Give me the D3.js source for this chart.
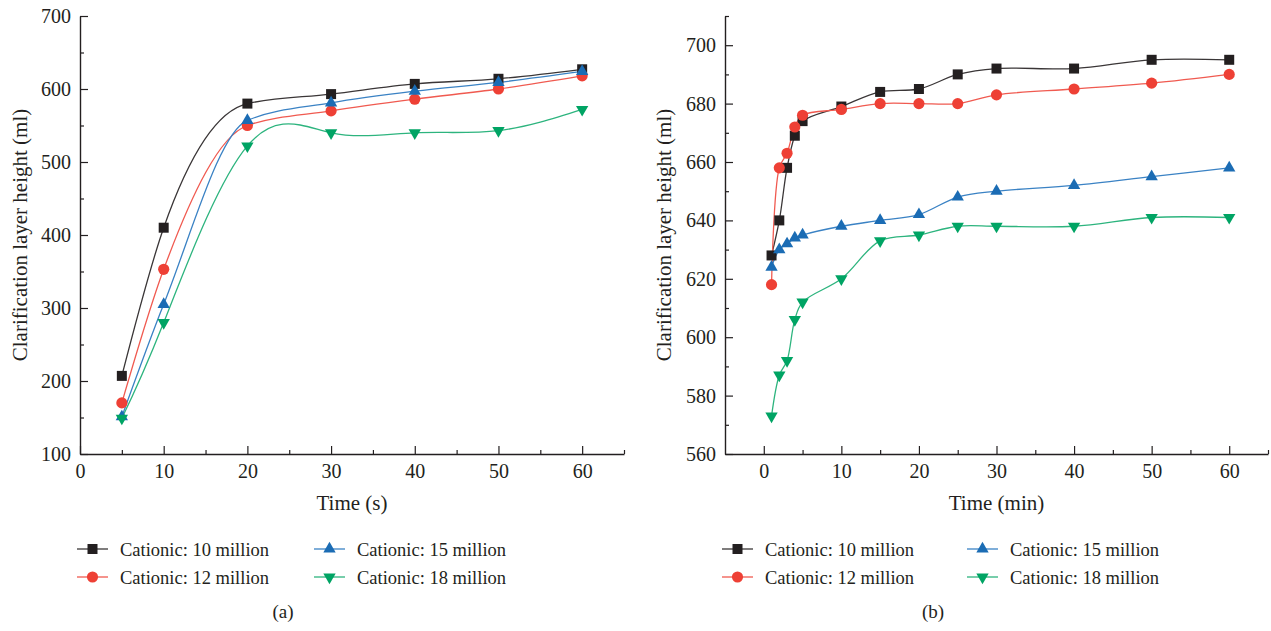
<!DOCTYPE html>
<html>
<head>
<meta charset="utf-8">
<script src="https://cdn.jsdelivr.net/npm/d3@7"></script>
<style>
  html, body { margin: 0; padding: 0; background: #fff; }
  svg { display: block; }
  text { font-family: "Liberation Serif", "DejaVu Serif", serif; fill: #231f20; }
</style>
</head>
<body>
<svg id="chart" width="1271" height="631"></svg>
<script>
// ---- data ----
const seriesNames = ["Cationic: 10 million", "Cationic: 12 million", "Cationic: 15 million", "Cationic: 18 million"];

// panel (a): time in seconds
const timeA = [5, 10, 20, 30, 40, 50, 60];
const a10 = [207, 410, 580, 593, 607, 614, 627];
const a12 = [170, 353, 550, 570, 586, 600, 618];
const a15 = [151, 305, 557, 581, 597, 609, 624];
const a18 = [149, 280, 522, 540, 540, 543, 572];

// panel (b): time in minutes
const timeB = [1, 2, 3, 4, 5, 10, 15, 20, 25, 30, 40, 50, 60];
const b10 = [628, 640, 658, 669, 674, 679, 684, 685, 690, 692, 692, 695, 695];
const b12 = [618, 658, 663, 672, 676, 678, 680, 680, 680, 683, 685, 687, 690];
const b15 = [624, 630, 632, 634, 635, 638, 640, 642, 648, 650, 652, 655, 658];
const b18 = [573, 587, 592, 606, 612, 620, 633, 635, 638, 638, 638, 641, 641];

// tick labels
const xTicksA = [0, 10, 20, 30, 40, 50, 60];
const yTicksA = [100, 200, 300, 400, 500, 600, 700];
const xTicksB = [0, 10, 20, 30, 40, 50, 60];
const yTicksB = [560, 580, 600, 620, 640, 660, 680, 700];

// ---- styling ----
const colors = ["#231f20", "#ee4035", "#1b6cb4", "#00a464"];
const lineColors = ["#3a3637", "#f05a50", "#3a82c4", "#2db47e"];
const symbols = [
  { type: d3.symbolSquare, size: 100, rot: 0 },
  { type: d3.symbolCircle, size: 98, rot: 0 },
  { type: d3.symbolTriangle, size: 66, rot: 0 },
  { type: d3.symbolTriangle, size: 66, rot: 180 }
];
const tickFont = 20, titleFont = 21, legendFont = 18.5;

const svg = d3.select("#chart");
svg.append("rect").attr("width", 1271).attr("height", 631).attr("fill", "#fff");

function drawPanel(cfg) {
  const x = d3.scaleLinear().domain(cfg.xDomain).range([cfg.left, cfg.right]);
  const y = d3.scaleLinear().domain(cfg.yDomain).range([cfg.bottom, cfg.top]);
  const g = svg.append("g");

  // minor ticks
  g.append("g").attr("transform", `translate(0,${cfg.bottom})`)
    .call(d3.axisBottom(x).tickValues(cfg.xMinor).tickSizeInner(-4).tickSizeOuter(0).tickFormat(""))
    .call(s => s.select(".domain").remove());
  g.append("g").attr("transform", `translate(${cfg.left},0)`)
    .call(d3.axisLeft(y).tickValues(cfg.yMinor).tickSizeInner(-4).tickSizeOuter(0).tickFormat(""))
    .call(s => s.select(".domain").remove());

  // major axes
  g.append("g").attr("transform", `translate(0,${cfg.bottom})`)
    .call(d3.axisBottom(x).tickValues(cfg.xTicks).tickSizeInner(-8).tickSizeOuter(0).tickPadding(10).tickFormat(d3.format("d")));
  g.append("g").attr("transform", `translate(${cfg.left},0)`)
    .call(d3.axisLeft(y).tickValues(cfg.yTicks).tickSizeInner(-8).tickSizeOuter(0).tickPadding(9).tickFormat(d3.format("d")));

  g.selectAll(".tick line").attr("stroke", "#231f20").attr("stroke-width", 1.2);
  g.selectAll(".domain").attr("stroke", "#231f20").attr("stroke-width", 1.4);
  g.selectAll(".tick text").attr("font-size", tickFont).attr("font-family", "Liberation Serif").attr("fill", "#231f20");

  // axis titles
  g.append("text").attr("x", (cfg.left + cfg.right) / 2).attr("y", cfg.bottom + 56)
    .attr("text-anchor", "middle").attr("font-size", titleFont).text(cfg.xTitle);
  g.append("text").attr("transform", `translate(${cfg.yTitleX},${(cfg.top + cfg.bottom) / 2}) rotate(-90)`)
    .attr("text-anchor", "middle").attr("font-size", titleFont).text("Clarification layer height (ml)");

  // smoothed series lines
  cfg.series.forEach((vals, i) => {
    const pts = cfg.times.map((t, k) => [t, vals[k]]);
    const line = d3.line().x(d => x(d[0])).y(d => y(d[1])).curve(cfg.curves[i]);
    g.append("path").datum(pts).attr("d", line)
      .attr("fill", "none").attr("stroke", lineColors[i]).attr("stroke-width", 1.3);
  });
  // markers
  cfg.series.forEach((vals, i) => {
    const sym = symbols[i];
    g.append("g").selectAll("path").data(cfg.times.map((t, k) => [t, vals[k]])).join("path")
      .attr("d", d3.symbol().type(sym.type).size(sym.size))
      .attr("transform", d => `translate(${x(d[0])},${y(d[1])}) rotate(${sym.rot})`)
      .attr("fill", colors[i]);
  });

  // legend (two columns, two rows)
  const cols = [cfg.legendX1, cfg.legendX2];
  const rows = [549, 577];
  const order = [[0, 0, 0], [1, 0, 1], [2, 1, 0], [3, 1, 1]];
  order.forEach(([i, c, r]) => {
    const lg = g.append("g").attr("transform", `translate(${cols[c]},${rows[r]})`);
    lg.append("line").attr("x1", 0).attr("x2", 31).attr("y1", 0).attr("y2", 0)
      .attr("stroke", lineColors[i]).attr("stroke-width", 1.3);
    const sym = symbols[i];
    lg.append("path").attr("d", d3.symbol().type(sym.type).size(sym.size))
      .attr("transform", `translate(15.5,0) rotate(${sym.rot})`).attr("fill", colors[i]);
    lg.append("text").attr("x", 43).attr("y", 6.5).attr("font-size", legendFont).text(seriesNames[i]);
  });

  g.append("text").attr("x", cfg.captionX).attr("y", 618).attr("text-anchor", "middle")
    .attr("font-size", 19).text(cfg.caption);
}

const mono = d3.curveMonotoneX;
const cr = d3.curveCatmullRom.alpha(0.5);

drawPanel({
  left: 80, right: 624, top: 16, bottom: 454,
  xDomain: [0, 65], yDomain: [100, 700],
  xTicks: xTicksA, yTicks: yTicksA,
  xMinor: [5, 15, 25, 35, 45, 55, 65], yMinor: [150, 250, 350, 450, 550, 650],
  xTitle: "Time (s)", yTitleX: 27,
  times: timeA, series: [a10, a12, a15, a18],
  curves: [mono, mono, mono, d3.curveNatural],
  legendX1: 77, legendX2: 314, captionX: 283, caption: "(a)"
});

drawPanel({
  left: 725, right: 1268, top: 16, bottom: 454,
  xDomain: [-5, 65], yDomain: [560, 710],
  xTicks: xTicksB, yTicks: yTicksB,
  xMinor: [5, 15, 25, 35, 45, 55, 65], yMinor: [570, 590, 610, 630, 650, 670, 690, 710],
  xTitle: "Time (min)", yTitleX: 671,
  times: timeB, series: [b10, b12, b15, b18],
  curves: [cr, cr, cr, cr],
  legendX1: 722, legendX2: 967, captionX: 933, caption: "(b)"
});
</script>
</body>
</html>
